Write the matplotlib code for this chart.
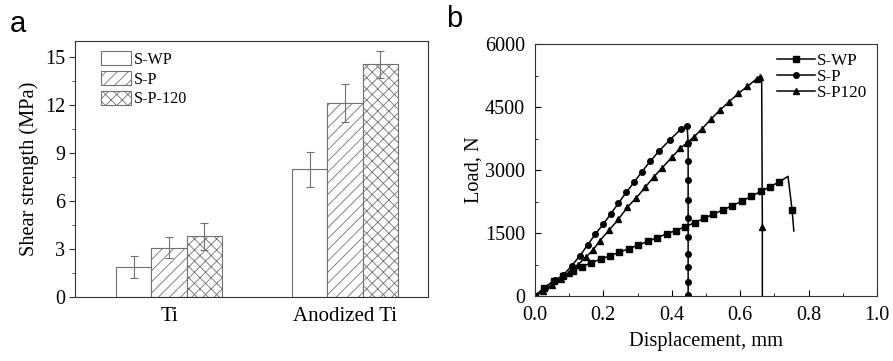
import numpy as np
import matplotlib
matplotlib.use("Agg")
import matplotlib.pyplot as plt
from matplotlib.ticker import MultipleLocator

# ---- panel a data: shear strength (MPa)
groups = ["Ti", "Anodized Ti"]
bar_labels = ["S-WP", "S-P", "S-P-120"]
swp_val = [1.9, 8.0]
sp_val = [3.1, 12.15]
sp120_val = [3.8, 14.55]
swp_err = [0.68, 1.1]
sp_err = [0.65, 1.2]
sp120_err = [0.85, 0.85]

# ---- panel b data: load-displacement curves
swp_x = [0, 0.027, 0.055, 0.082, 0.110, 0.137, 0.165, 0.192, 0.220, 0.247, 0.275, 0.302,
         0.330, 0.357, 0.385, 0.412, 0.440, 0.467, 0.495, 0.522, 0.550, 0.577, 0.605,
         0.632, 0.660, 0.687, 0.715, 0.740, 0.752, 0.757]
swp_y = [0, 200, 360, 480, 600, 700, 790, 880, 960, 1040, 1130, 1210, 1300, 1390, 1480,
         1560, 1650, 1750, 1850, 1950, 2050, 2150, 2260, 2370, 2490, 2600, 2720, 2850,
         2050, 1550]
sp_x = [0, 0.030, 0.058, 0.083, 0.107, 0.131, 0.154, 0.177, 0.200, 0.222, 0.244, 0.267,
        0.290, 0.313, 0.337, 0.364, 0.394, 0.426, 0.445, 0.448, 0.448, 0.448, 0.448,
        0.448, 0.448, 0.448, 0.448, 0.448, 0.448]
sp_y = [0, 200, 370, 500, 714, 952, 1214, 1480, 1710, 1960, 2206, 2470, 2710, 2960, 3206,
        3460, 3714, 3968, 4060, 3650, 3220, 2760, 2290, 1850, 1410, 1010, 700, 340, 30]
sp120_x = [0, 0.025, 0.050, 0.075, 0.100, 0.125, 0.150, 0.170, 0.190, 0.217, 0.244, 0.270,
           0.297, 0.322, 0.347, 0.373, 0.400, 0.425, 0.445, 0.465, 0.488, 0.514, 0.541,
           0.568, 0.595, 0.621, 0.648, 0.658, 0.663, 0.665, 0.665]
sp120_y = [0, 130, 260, 400, 560, 740, 930, 1100, 1318, 1571, 1825, 2111, 2345, 2585, 2830,
           3060, 3300, 3520, 3650, 3790, 3976, 4206, 4429, 4627, 4825, 4990, 5170, 5220,
           5220, 1650, 0]

plt.rcParams['font.family'] = ['Liberation Serif', 'DejaVu Serif']
plt.rcParams['hatch.linewidth'] = 0.6
plt.rcParams['hatch.color'] = '#808080'

fig = plt.figure(figsize=(8.93, 3.61), dpi=100)

# ---------------- panel a
ax1 = fig.add_axes([0.084, 0.177, 0.395, 0.709])
xpos = np.arange(1, len(groups) + 1)
w = 0.2
ecol = '#707070'
ekw = dict(ecolor=ecol, elinewidth=0.8, capsize=3, capthick=0.8)
ax1.bar(xpos - w, swp_val, w, yerr=swp_err, color='white', edgecolor=ecol, linewidth=0.8,
        label=bar_labels[0], error_kw=ekw)
ax1.bar(xpos, sp_val, w, yerr=sp_err, color='white', edgecolor=ecol, linewidth=0.8, hatch='///',
        label=bar_labels[1], error_kw=ekw)
ax1.bar(xpos + w, sp120_val, w, yerr=sp120_err, color='white', edgecolor=ecol, linewidth=0.8,
        hatch='xxx', label=bar_labels[2], error_kw=ekw)
ax1.set_xlim(0.466, 2.47)
ax1.set_ylim(0, 16)
ax1.set_xticks(xpos)
ax1.set_xticklabels(groups)
ax1.tick_params(axis='x', length=0, labelsize=15, pad=7)
ax1.yaxis.set_major_locator(MultipleLocator(3))
ax1.yaxis.set_minor_locator(MultipleLocator(1.5))
ax1.tick_params(axis='y', which='major', direction='out', length=4, labelsize=14.5,
                color='#333333', pad=3)
ax1.tick_params(axis='y', which='minor', direction='out', length=2.5, color='#333333')
ax1.set_ylabel('Shear strength (MPa)', fontsize=14.7, labelpad=4)
for s in ax1.spines.values():
    s.set_color('#333333')
ax1.legend(loc='upper left', bbox_to_anchor=(0.055, 0.985), frameon=False, fontsize=11.6,
           handlelength=1.9, handleheight=0.95, handletextpad=0.15, labelspacing=0.2,
           borderaxespad=0)
fig.text(0.011, 0.91, 'a', fontsize=21, family='Liberation Sans')

# ---------------- panel b
ax2 = fig.add_axes([0.599, 0.18, 0.383, 0.698])
ms = 4
ax2.plot(swp_x, swp_y, '-', color='black', lw=1.1, marker='s', ms=ms,
         markevery=list(range(0, 27)) + [28], label='S-WP')
ax2.plot(sp_x, sp_y, '-', color='black', lw=1.1, marker='o', ms=ms, label='S-P')
ax2.plot(sp120_x, sp120_y, '-', color='black', lw=1.1, marker='^', ms=ms,
         markevery=list(range(0, 28)) + [29], label='S-P120')
ax2.set_xlim(0, 1.0)
ax2.set_ylim(0, 6000)
ax2.xaxis.set_major_locator(MultipleLocator(0.2))
ax2.xaxis.set_minor_locator(MultipleLocator(0.1))
ax2.yaxis.set_major_locator(MultipleLocator(1500))
ax2.yaxis.set_minor_locator(MultipleLocator(750))
ax2.xaxis.set_major_formatter(plt.FormatStrFormatter('%.1f'))
ax2.tick_params(which='major', direction='in', length=4, labelsize=14.5)
ax2.tick_params(axis='x', which='major', pad=7)
ax2.tick_params(axis='y', which='major', pad=7)
ax2.tick_params(which='minor', direction='in', length=2.5)
ax2.set_xlabel('Displacement, mm', fontsize=14.7, labelpad=5)
ax2.set_ylabel('Load, N', fontsize=14.7, labelpad=1)
for s in ax2.spines.values():
    s.set_color('#333333')
ax2.legend(loc='upper right', bbox_to_anchor=(1.0, 1.005), frameon=False, fontsize=12.3,
           handlelength=2.2, handletextpad=0.1, labelspacing=0.0, borderaxespad=0.2)
fig.text(0.5, 0.925, 'b', fontsize=21, family='Liberation Sans')

fig.savefig('out.png', dpi=100)
